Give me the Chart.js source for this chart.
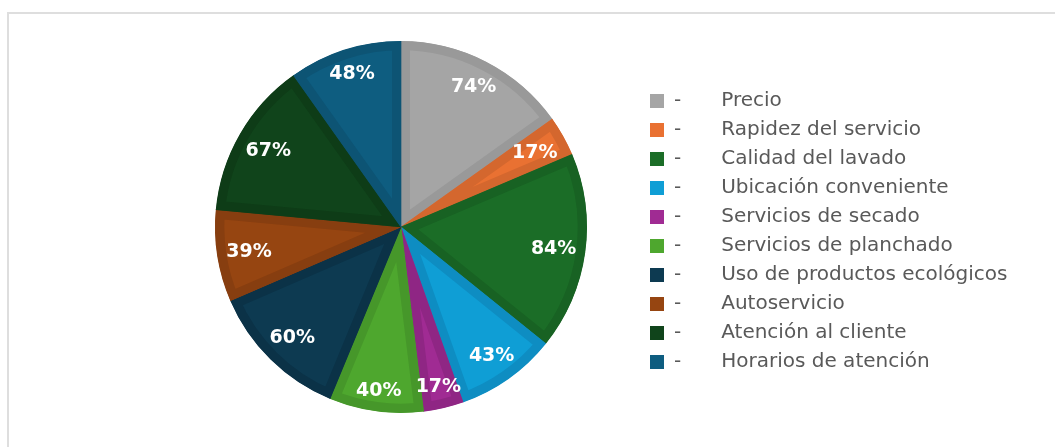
<!DOCTYPE html>
<html lang="es">
<head>
<meta charset="utf-8">
<title>Factores de elección de lavandería</title>
<script src="https://cdn.jsdelivr.net/npm/chart.js@4.4.1/dist/chart.umd.min.js"></script>
<style>
  html, body { margin: 0; padding: 0; background: #ffffff; }
  #wrap { position: relative; width: 1055px; height: 447px; overflow: hidden; }
  #frame {
    position: absolute; left: 7px; top: 12px; width: 1200px; height: 600px;
    border: 2px solid #dedede; box-sizing: border-box;
  }
  #c { position: absolute; left: 0; top: 0; }
</style>
</head>
<body>
<div id="wrap">
  <div id="frame"></div>
  <canvas id="c" width="1055" height="447"></canvas>
</div>
<script>
// Factores valorados por los clientes (porcentaje de menciones)
const categories = [
  'Precio',
  'Rapidez del servicio',
  'Calidad del lavado',
  'Ubicación conveniente',
  'Servicios de secado',
  'Servicios de planchado',
  'Uso de productos ecológicos',
  'Autoservicio',
  'Atención al cliente',
  'Horarios de atención'
];
const values = [74, 17, 84, 43, 17, 40, 60, 39, 67, 48];

// Relleno de cada porción y tono algo más oscuro para su borde interior
const fillColors = ['#A5A5A5', '#E97132', '#1B6D27', '#0F9ED5', '#A02B93',
                    '#4EA72E', '#0D3A51', '#964511', '#10441B', '#0E5D80'];
const edgeColors = ['#999999', '#D4672E', '#186223', '#0E8DC2', '#8F2684',
                    '#46972A', '#0B3247', '#873E10', '#0E3C17', '#0D5474'];

// Etiquetas de porcentaje, colocadas hacia el borde exterior de cada porción
const valueLabels = {
  id: 'valueLabels',
  afterDatasetsDraw(chart) {
    const ctx = chart.ctx;
    const meta = chart.getDatasetMeta(0);
    ctx.save();
    ctx.font = 'bold 19px "DejaVu Sans"';
    ctx.fillStyle = '#ffffff';
    ctx.textAlign = 'center';
    ctx.textBaseline = 'middle';
    meta.data.forEach((arc, i) => {
      const p = arc.getProps(['x', 'y', 'startAngle', 'endAngle', 'outerRadius'], true);
      const mid = (p.startAngle + p.endAngle) / 2;
      const text = values[i] + '%';
      const w = ctx.measureText(text).width;
      const h = 20;
      const c = Math.cos(mid), s = Math.sin(mid);
      const r = p.outerRadius - 8 - (Math.abs(c) * w / 2 + Math.abs(s) * h / 2);
      ctx.fillText(text, p.x + c * r, p.y + s * r + 1);
    });
    ctx.restore();
  }
};

new Chart(document.getElementById('c'), {
  type: 'pie',
  data: {
    labels: categories,
    datasets: [{
      data: values,
      backgroundColor: fillColors,
      borderColor: edgeColors,
      borderWidth: 9,
      borderAlign: 'inner',
      borderJoinStyle: 'miter',
      hoverOffset: 0,
      offset: 0
    }]
  },
  options: {
    responsive: false,
    animation: false,
    events: [],
    layout: { padding: { left: 161, right: 38, top: 41, bottom: 34 } },
    plugins: {
      tooltip: { enabled: false },
      legend: {
        position: 'right',
        maxWidth: 376,
        title: { display: true, text: '', font: { size: 9, lineHeight: 1 }, padding: 0 },
        labels: {
          boxWidth: 14,
          boxHeight: 14,
          padding: 9,
          color: '#595959',
          font: { family: '"DejaVu Sans"', size: 20 },
          generateLabels(chart) {
            const ds = chart.data.datasets[0];
            return chart.data.labels.map((lab, i) => ({
              text: '-\u2003\u2003' + lab,
              fillStyle: ds.backgroundColor[i],
              strokeStyle: ds.backgroundColor[i],
              lineWidth: 0,
              fontColor: '#595959',
              hidden: false,
              index: i
            }));
          }
        }
      }
    }
  },
  plugins: [valueLabels]
});
</script>
</body>
</html>
